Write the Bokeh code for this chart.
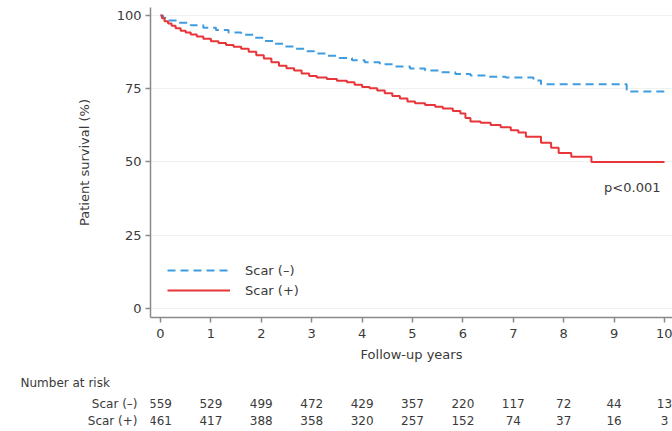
from bokeh.plotting import figure
from bokeh.layouts import column
from bokeh.models import Range1d, Legend, LegendItem, Label, FixedTicker, Title
from bokeh.embed import file_html
from bokeh.resources import INLINE
from bokeh.core.properties import value

# Kaplan-Meier estimates (follow-up years, survival %)
neg_years = [0, 0.05, 0.15, 0.35, 0.60, 0.85, 1.10, 1.35, 1.60, 1.85, 2.05, 2.25,
             2.45, 2.65, 2.85, 3.05, 3.30, 3.55, 3.80, 4.05, 4.35, 4.65, 4.95,
             5.25, 5.55, 5.85, 6.15, 6.45, 6.85, 7.40, 7.55, 9.25, 10.05]
neg_surv = [100, 99.2, 98.3, 97.5, 96.6, 95.8, 95.0, 94.2, 93.4, 92.4, 91.3, 90.3,
            89.4, 88.6, 87.8, 87.0, 86.2, 85.5, 84.7, 84.0, 83.3, 82.6, 81.9,
            81.2, 80.6, 80.0, 79.5, 79.1, 78.8, 77.8, 76.5, 74.0, 74.0]

pos_years = [0, 0.03, 0.08, 0.15, 0.22, 0.30, 0.40, 0.50, 0.60, 0.72, 0.85, 1.00,
             1.15, 1.30, 1.45, 1.60, 1.75, 1.90, 2.05, 2.20, 2.35, 2.50, 2.65,
             2.80, 2.95, 3.10, 3.30, 3.50, 3.70, 3.85, 4.00, 4.15, 4.30, 4.45,
             4.60, 4.75, 4.90, 5.05, 5.25, 5.45, 5.60, 5.80, 5.95, 6.05, 6.15,
             6.35, 6.55, 6.75, 6.95, 7.10, 7.25, 7.55, 7.75, 7.90, 8.15, 8.55, 10.0]
pos_surv = [100, 99.0, 98.0, 97.2, 96.5, 95.6, 94.8, 94.2, 93.5, 92.8, 92.0, 91.2,
            90.6, 89.9, 89.3, 88.6, 87.6, 86.4, 85.3, 84.0, 82.8, 82.0, 81.2,
            80.2, 79.3, 78.8, 78.3, 77.7, 77.2, 76.3, 75.6, 75.1, 74.4, 73.4,
            72.5, 71.6, 70.6, 70.0, 69.4, 68.8, 68.2, 67.4, 66.5, 65.0, 63.8,
            63.4, 62.6, 61.8, 60.8, 60.0, 58.6, 56.5, 54.8, 53.0, 51.8, 50.0, 50.0]

# Number-at-risk table
risk_years = [0, 1, 2, 3, 4, 5, 6, 7, 8, 9, 10]
risk_neg = [559, 529, 499, 472, 429, 357, 220, 117, 72, 44, 13]
risk_pos = [461, 417, 388, 358, 320, 257, 152, 74, 37, 16, 3]
group_labels = ["Scar (\u2013)", "Scar (+)"]
table_title = "Number at risk"
y_ticks = [0, 25, 50, 75, 100]
p_text = "p<0.001"

FONT = "DejaVu Sans"
TXT = "#3a3a3a"
AXC = "#8a8a8a"
BLUE = "#3f9ddf"
RED = "#e8353a"

W = 672
LEFT, TOP = 150, 7
MAIN_H, TABLE_H = 372, 59
PX_PER_YEAR = 50.4
ZERO_PX = 160
x_lo = (LEFT - ZERO_PX) / PX_PER_YEAR
x_hi = (W - ZERO_PX) / PX_PER_YEAR
shared_x = Range1d(x_lo, x_hi)

# ---- survival curves ----
p = figure(width=W, height=MAIN_H, x_range=shared_x,
           y_range=Range1d(-3.1, 102.7), output_backend="svg",
           toolbar_location=None, min_border_left=LEFT, min_border_right=0,
           min_border_top=TOP, min_border_bottom=55)
p.outline_line_color = None
p.xgrid.grid_line_color = None
p.ygrid.grid_line_color = "#f1f1f1"
p.xaxis.ticker = FixedTicker(ticks=risk_years)
p.yaxis.ticker = FixedTicker(ticks=y_ticks)
p.xaxis.axis_label = "Follow-up years"
p.yaxis.axis_label = "Patient survival (%)"
for ax in (p.xaxis, p.yaxis):
    ax.axis_line_color = AXC
    ax.axis_line_width = 1.5
    ax.major_tick_line_color = AXC
    ax.major_tick_line_width = 1.5
    ax.major_tick_out = 5
    ax.major_tick_in = 0
    ax.minor_tick_line_color = None
    ax.major_label_text_font = FONT
    ax.major_label_text_font_size = "13px"
    ax.major_label_text_color = TXT
    ax.axis_label_text_font = FONT
    ax.axis_label_text_font_size = "13px"
    ax.axis_label_text_font_style = "normal"
    ax.axis_label_text_color = TXT
p.xaxis.major_label_standoff = 6
p.xaxis.axis_label_standoff = 6
p.yaxis.major_label_standoff = 4
p.yaxis.axis_label_standoff = 22

r_neg = p.step(neg_years, neg_surv, mode="after", line_color=BLUE,
               line_width=2, line_dash="8 5")
r_pos = p.step(pos_years, pos_surv, mode="after", line_color=RED, line_width=2)

legend = Legend(items=[LegendItem(label=group_labels[0], renderers=[r_neg]),
                       LegendItem(label=group_labels[1], renderers=[r_pos])],
                location=(17, 17), glyph_width=63, glyph_height=20,
                label_height=20, label_standoff=15, spacing=0, padding=0,
                margin=0, border_line_color=None, background_fill_alpha=0,
                label_text_font=FONT, label_text_font_size="13px",
                label_text_color=TXT)
p.add_layout(legend, "center")

p.add_layout(Label(x=9.92, y=41.4, text=p_text, text_align="right",
                   text_baseline="middle", text_font=FONT,
                   text_font_size="13px", text_color=TXT))

# ---- number at risk table ----
HEAD = 18
frame_h = TABLE_H - HEAD
row_y = [13, 30]  # pixels below the table frame's top edge

t = figure(width=W, height=TABLE_H, x_range=shared_x,
           y_range=Range1d(frame_h, 0), output_backend="svg",
           toolbar_location=None, x_axis_location=None,
           min_border_left=LEFT, min_border_right=0, min_border_top=HEAD,
           min_border_bottom=0)
t.outline_line_color = None
t.xgrid.grid_line_color = None
t.ygrid.grid_line_color = None
t.add_layout(Title(text=table_title, align="left", offset=20 - LEFT,
                   vertical_align="middle", standoff=0, text_font=FONT,
                   text_font_size="12px", text_font_style="normal",
                   text_color=TXT), "above")

ya = t.yaxis[0]
ya.ticker = FixedTicker(ticks=row_y)
ya.major_label_overrides = {row_y[0]: group_labels[0], row_y[1]: group_labels[1]}
ya.axis_line_color = None
ya.major_tick_line_color = None
ya.minor_tick_line_color = None
ya.major_tick_out = 0
ya.major_label_standoff = 13
ya.major_label_text_font = FONT
ya.major_label_text_font_size = "12px"
ya.major_label_text_color = TXT

for counts, yy in zip([risk_neg, risk_pos], row_y):
    t.text(x=risk_years, y=[yy] * len(risk_years), text=[str(c) for c in counts],
           text_font=value(FONT), text_font_size="12px", text_color=TXT,
           text_align="center", text_baseline="middle")

layout = column(p, t, spacing=0)
open("out.html", "w").write(file_html(layout, INLINE))
